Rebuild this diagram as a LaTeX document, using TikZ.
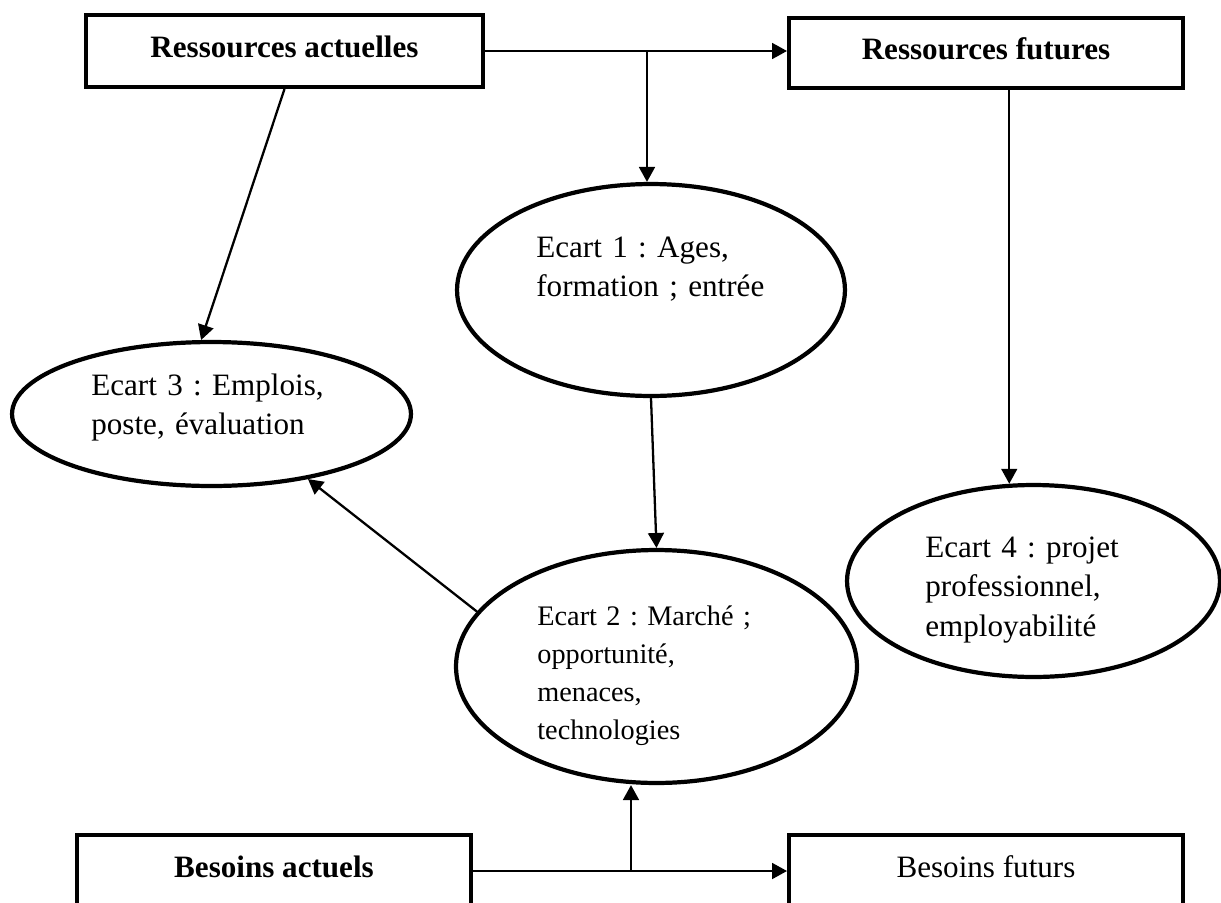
\documentclass[tikz,border=0pt]{standalone}
\usepackage{fontspec}
\setmainfont{Liberation Serif}
\usetikzlibrary{shapes.geometric,arrows.meta}
\frenchspacing
\begin{document}
\begin{tikzpicture}[x=0.02cm,y=-0.02cm,
  boxnode/.style={draw,line width=2.3pt,rectangle,minimum height=1.44cm,inner sep=0pt,
    font=\fontsize{17.7}{21}\selectfont,text height=12.4pt,text depth=4.5pt},
  ell/.style={draw,line width=2.4pt,ellipse,inner sep=0pt},
  etext/.style={inner sep=0pt,anchor=base west,text width=5.2cm,
    font=\fontsize{17.7}{22.7}\selectfont\frenchspacing},
  arr/.style={line width=1.3pt,-{Triangle[length=8.5pt,width=9pt]}}]
\useasboundingbox (0,0) rectangle (1221,903);
\clip (0,0) rectangle (1221,903);
\fill[white] (0,0) rectangle (1221,903);

% boxes
\node[boxnode,minimum width=7.94cm] (ra) at (284.5,51) {\bfseries Ressources actuelles};
\node[boxnode,minimum width=7.88cm,minimum height=1.40cm] (rf) at (986,53) {\bfseries Ressources futures};
\node[boxnode,minimum width=7.88cm] (ba) at (274,871) {\bfseries Besoins actuels};
\node[boxnode,minimum width=7.88cm] (bf) at (986,871) {Besoins futurs};

% ellipses
\node[ell,minimum width=7.76cm,minimum height=4.24cm] (e1) at (651,290) {};
\node[ell,minimum width=8.02cm,minimum height=4.66cm] (e2) at (656.5,666.5) {};
\node[ell,minimum width=7.98cm,minimum height=2.88cm] (e3) at (211.5,414) {};
\node[ell,minimum width=7.46cm,minimum height=3.84cm] (e4) at (1033.5,581) {};

% ellipse texts
\node[etext] (t1) at (536,257) {\makebox[3.72cm][s]{Ecart 1 : Ages,}\\\mbox{formation ; entrée}};
\node[etext,font=\fontsize{16.1}{21.7}\selectfont\frenchspacing] (t2) at (537,625)
  {\makebox[4.62cm][s]{Ecart 2 : Marché ;}\\\mbox{opportunité,}\\\mbox{menaces,}\\\mbox{technologies}};
\node[etext] (t3) at (91,395) {\makebox[4.68cm][s]{Ecart 3 : Emplois,}\\\mbox{poste, évaluation}};
\node[etext] (t4) at (925,557) {\makebox[4.5cm][s]{Ecart 4 : projet}\\\mbox{professionnel,}\\\mbox{employabilité}};

% connectors
\coordinate (j1) at (647,51);
\coordinate (j2) at (631,871);
\draw[arr] (ra.east) -- (ra.east -| rf.west);
\draw[arr] (j1) -- (j1 |- e1.north);
\draw[arr] (ra.south) -- (e3.98);
\draw[arr] (rf.south -| e4.104) -- (e4.104);
\draw[arr] (e1.south) -- (e2.north);
\draw[arr] (e2.163) -- (e3.-34);
\draw[arr] (ba.east) -- (bf.west);
\draw[arr] (j2) -- (j2 |- e2.south);
\end{tikzpicture}
\end{document}
